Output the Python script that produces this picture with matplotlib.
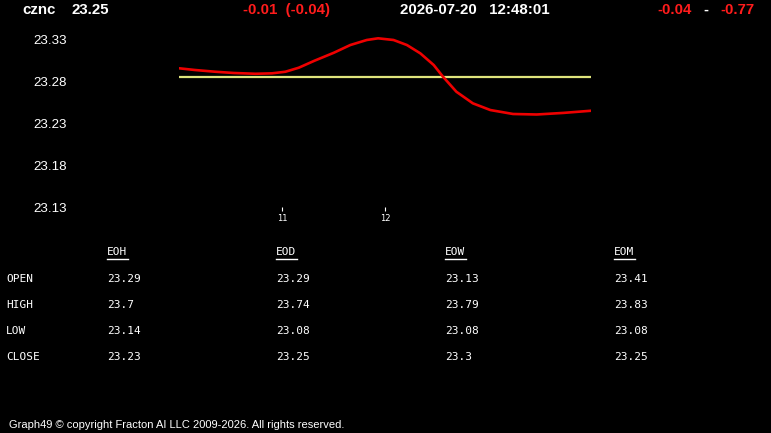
import matplotlib.pyplot as plt
from matplotlib.lines import Line2D

# price curve (hour of day, price)
hours = [10.0, 10.15, 10.35, 10.53, 10.74, 10.9, 11.03, 11.16, 11.31, 11.5,
         11.66, 11.82, 11.93, 12.08, 12.21, 12.34, 12.47, 12.56, 12.69, 12.85,
         13.02, 13.24, 13.47, 13.73, 14.0]
prices = [23.2955, 23.2935, 23.2914, 23.2899, 23.289, 23.2895, 23.2914, 23.2962, 23.3044, 23.314,
          23.3232, 23.3292, 23.3312, 23.3292, 23.3232, 23.3133, 23.2994, 23.2855, 23.2676, 23.2538,
          23.2458, 23.2411, 23.2405, 23.2424, 23.245]
ref_price = 23.2855
y_ticks = [23.13, 23.18, 23.23, 23.28, 23.33]
x_ticks = [11, 12]

symbol = "cznc"
last = "23.25"
change = "-0.01  (-0.04)"
stamp = "2026-07-20   12:48:01"
range_lo = "-0.04"
range_hi = "-0.77"

cols = ["EOH", "EOD", "EOW", "EOM"]
rows = ["OPEN", "HIGH", "LOW", "CLOSE"]
table = [["23.29", "23.29", "23.13", "23.41"],
         ["23.7", "23.74", "23.79", "23.83"],
         ["23.14", "23.08", "23.08", "23.08"],
         ["23.23", "23.25", "23.3", "23.25"]]

W, H = 771, 433
fig = plt.figure(figsize=(W / 100, H / 100), dpi=100)
fig.patch.set_facecolor("black")

def fx(px):
    return px / W

def fy(py):
    return 1 - py / H

# chart area: hour 10 at x=179.3, 14 at x=591.3 ; top y=30, bottom y=211
ax = fig.add_axes([fx(179.3), fy(211), fx(591.3) - fx(179.3), fy(30) - fy(211)])
ax.set_facecolor("black")
ax.set_xlim(10, 14)
ax.set_ylim(23.1256, 23.3411)
for s in ax.spines.values():
    s.set_visible(False)

ax.plot([hours[0], hours[-1]], [ref_price, ref_price], color="#dfe47c", lw=1.6)
ax.plot(hours, prices, color="#ee0000", lw=1.9, solid_capstyle="round", solid_joinstyle="round")

ax.set_yticks(y_ticks)
ax.set_yticklabels([f"{v:.2f}" for v in y_ticks], family="Liberation Sans")
ax.tick_params(axis="y", length=0, pad=81, labelsize=9.6, labelcolor="white")
ax.set_xticks(x_ticks)
ax.tick_params(axis="x", direction="in", length=3, width=0.8, color="white",
               labelsize=6, labelcolor="white", pad=2)

# header
hdr = dict(fontsize=10.8, fontweight="bold", family="Liberation Sans", va="center")
fig.text(fx(22), fy(10), symbol, color="white", **hdr)
fig.text(fx(72), fy(10), last, color="white", **hdr)
fig.text(fx(243), fy(10), change, color="#ff1c1c", **hdr)
fig.text(fx(400), fy(10), stamp, color="white", **hdr)
fig.text(fx(657), fy(10), range_lo, color="#ff1c1c", **hdr)
fig.text(fx(703), fy(10), "-", color="white", **hdr)
fig.text(fx(720), fy(10), range_hi, color="#ff1c1c", **hdr)

# table
mono = dict(fontsize=8, family="DejaVu Sans Mono", color="white", va="center")
col_x = [107, 276, 445, 614]
for j, c in enumerate(cols):
    fig.text(fx(col_x[j]), fy(252), c, **mono)
    fig.add_artist(Line2D([fx(col_x[j]), fx(col_x[j] + 21)], [fy(258.5), fy(258.5)],
                          color="white", lw=1))
for i, r in enumerate(rows):
    y = 279 + 26 * i
    fig.text(fx(6), fy(y), r, **mono)
    for j in range(len(cols)):
        fig.text(fx(col_x[j]), fy(y), table[i][j], **mono)

fig.text(fx(9), fy(425), "Graph49 \u00a9 copyright Fracton AI LLC 2009-2026. All rights reserved.",
         fontsize=8, family="Liberation Sans", color="white", va="center")

fig.savefig("out.png", dpi=100, facecolor="black")
